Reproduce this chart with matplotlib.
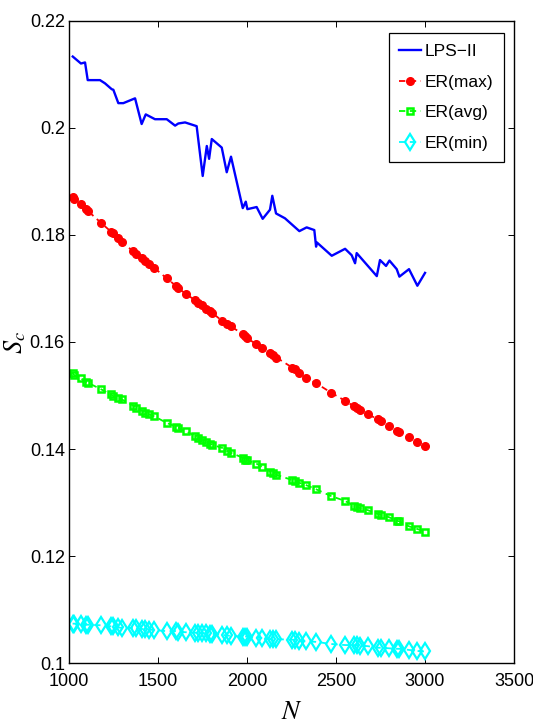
import matplotlib
matplotlib.use("Agg")
import matplotlib.pyplot as plt
from matplotlib import font_manager

# pick a narrow sans if it is there (the reference text looks horizontally squeezed)
_names = {f.name for f in font_manager.fontManager.ttflist}
if "Liberation Sans Narrow" in _names:
    FONT, TICK_FS, LEG_FS = "Liberation Sans Narrow", 15, 14
else:
    FONT, TICK_FS, LEG_FS = "Liberation Sans", 13, 12.5
plt.rcParams["font.family"] = [FONT, "DejaVu Sans"]
plt.rcParams["mathtext.fontset"] = "stix"

# ---------------------------------------------------------------------------
# Data
# ---------------------------------------------------------------------------
lps_n = [1021, 1067, 1090, 1105, 1174, 1202, 1240, 1249, 1277, 1305,
         1371, 1408, 1431, 1483, 1549, 1596, 1614, 1652, 1717, 1751,
         1774, 1787, 1802, 1858, 1886, 1910, 1976, 1993, 2002, 2054,
         2088, 2129, 2142, 2163, 2213, 2294, 2335, 2378, 2388, 2392,
         2476, 2551, 2588, 2607, 2616, 2729, 2747, 2781, 2800, 2841,
         2856, 2910, 2957, 3000]
lps_sc = [0.2133, 0.2120, 0.2122, 0.2089, 0.2089, 0.2083, 0.2072, 0.2071, 0.2046, 0.2046,
          0.2055, 0.2007, 0.2025, 0.2016, 0.2016, 0.2004, 0.2008, 0.2010, 0.2003, 0.1910,
          0.1966, 0.1942, 0.1979, 0.1963, 0.1917, 0.1946, 0.1850, 0.1862, 0.1848, 0.1852,
          0.1830, 0.1847, 0.1873, 0.1840, 0.1831, 0.1807, 0.1814, 0.1809, 0.1778, 0.1786,
          0.1761, 0.1774, 0.1762, 0.1747, 0.1766, 0.1723, 0.1753, 0.1742, 0.1752, 0.1736,
          0.1722, 0.1736, 0.1705, 0.1729]

er_n = [1020, 1030, 1065, 1095, 1105, 1178, 1236, 1248, 1277, 1295,
        1362, 1378, 1408, 1428, 1448, 1480, 1548, 1600, 1612, 1655,
        1708, 1726, 1746, 1770, 1792, 1805, 1862, 1887, 1910, 1975,
        1990, 2000, 2052, 2085, 2130, 2147, 2165, 2255, 2270, 2294,
        2330, 2388, 2474, 2552, 2600, 2620, 2632, 2678, 2734, 2752,
        2796, 2845, 2856, 2908, 2955, 3000]
er_max = [0.1870, 0.1867, 0.1857, 0.1849, 0.1845, 0.1823, 0.1806, 0.1803, 0.1794, 0.1787,
          0.1769, 0.1765, 0.1756, 0.1751, 0.1745, 0.1738, 0.1719, 0.1705, 0.1701, 0.1690,
          0.1678, 0.1673, 0.1669, 0.1662, 0.1657, 0.1654, 0.1639, 0.1634, 0.1629, 0.1615,
          0.1611, 0.1607, 0.1596, 0.1588, 0.1579, 0.1575, 0.1571, 0.1552, 0.1549, 0.1542,
          0.1533, 0.1523, 0.1505, 0.1490, 0.1480, 0.1476, 0.1473, 0.1465, 0.1456, 0.1452,
          0.1443, 0.1434, 0.1431, 0.1422, 0.1413, 0.1406]
er_avg = [0.1542, 0.1538, 0.1532, 0.1526, 0.1524, 0.1512, 0.1502, 0.1499, 0.1495, 0.1493,
          0.1481, 0.1477, 0.1472, 0.1468, 0.1465, 0.1461, 0.1449, 0.1442, 0.1440, 0.1433,
          0.1425, 0.1420, 0.1417, 0.1414, 0.1410, 0.1408, 0.1402, 0.1397, 0.1393, 0.1384,
          0.1380, 0.1379, 0.1373, 0.1367, 0.1358, 0.1355, 0.1352, 0.1342, 0.1340, 0.1337,
          0.1333, 0.1325, 0.1312, 0.1303, 0.1294, 0.1291, 0.1290, 0.1286, 0.1279, 0.1277,
          0.1273, 0.1266, 0.1265, 0.1256, 0.1251, 0.1246]
er_min = [0.1074, 0.1074, 0.1073, 0.1072, 0.1072, 0.1071, 0.1069, 0.1069, 0.1067, 0.1066,
          0.1066, 0.1065, 0.1064, 0.1064, 0.1063, 0.1062, 0.1060, 0.1060, 0.1059, 0.1058,
          0.1057, 0.1057, 0.1056, 0.1056, 0.1055, 0.1055, 0.1053, 0.1052, 0.1051, 0.1050,
          0.1050, 0.1050, 0.1048, 0.1047, 0.1045, 0.1045, 0.1045, 0.1044, 0.1044, 0.1042,
          0.1041, 0.1040, 0.1036, 0.1034, 0.1034, 0.1034, 0.1033, 0.1032, 0.1029, 0.1029,
          0.1028, 0.1027, 0.1027, 0.1025, 0.1023, 0.1022]

x_ticks = [1000, 1500, 2000, 2500, 3000, 3500]
y_ticks = [0.10, 0.12, 0.14, 0.16, 0.18, 0.20, 0.22]
y_ticklabels = ["0.1", "0.12", "0.14", "0.16", "0.18", "0.2", "0.22"]

# ---------------------------------------------------------------------------
# Figure
# ---------------------------------------------------------------------------
fig = plt.figure(figsize=(5.33, 7.23), dpi=100)
ax = fig.add_axes([0.1295, 0.0826, 0.8349, 0.8888])

DASH = (0, (3.5, 2.5))
ax.plot(lps_n, lps_sc, color="#0000ff", lw=1.7, label="LPS\u2212II")
ax.plot(er_n, er_max, color="#ff0000", lw=1.3, ls=DASH, marker="o", ms=5.5,
        mfc="#ff0000", mec="#ff0000", label="ER(max)")
ax.plot(er_n, er_avg, color="#00ff00", lw=1.3, ls=DASH, marker="s", ms=5,
        mfc="none", mec="#00ff00", mew=1.8, label="ER(avg)")
ax.plot(er_n, er_min, color="#00ffff", lw=1.3, ls=DASH, marker="d", ms=8,
        mfc="none", mec="#00ffff", mew=1.6, label="ER(min)")

ax.set_xlim(1000, 3500)
ax.set_ylim(0.1, 0.22)
ax.set_xticks(x_ticks)
ax.set_xticklabels([str(t) for t in x_ticks])
ax.set_yticks(y_ticks)
ax.set_yticklabels(y_ticklabels)
ax.tick_params(direction="in", length=4.5, width=0.7, top=True, right=True,
               labelsize=TICK_FS, colors="black")
ax.tick_params(axis="x", pad=7)
ax.tick_params(axis="y", pad=3)
for sp in ax.spines.values():
    sp.set_linewidth(1.0)

ax.set_xlabel(r"$N$", fontsize=19, labelpad=7)
ax.set_ylabel(r"$S_c$", fontsize=19)
ax.yaxis.set_label_coords(-0.092, 0.5)

leg = ax.legend(loc="upper right", bbox_to_anchor=(0.9775, 0.9804), borderaxespad=0,
                fontsize=LEG_FS, fancybox=False, framealpha=1, edgecolor="black",
                handlelength=1.3, handletextpad=0.2, borderpad=0.6, labelspacing=0.9)
leg.get_frame().set_linewidth(0.9)

fig.savefig("out.png", dpi=100)
